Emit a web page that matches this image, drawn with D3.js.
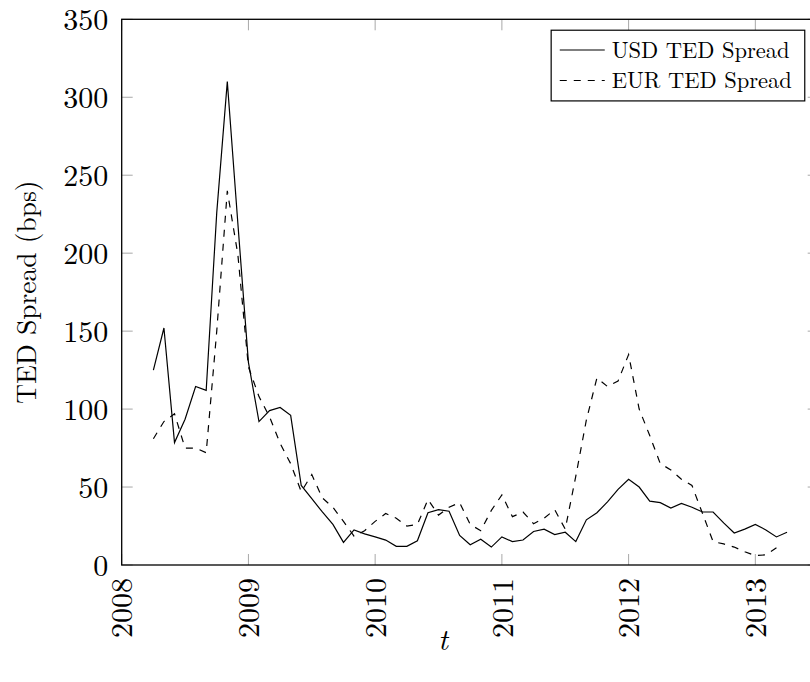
<!DOCTYPE html>
<html>
<head>
<meta charset="utf-8">
<script src="https://cdn.jsdelivr.net/npm/d3@7/dist/d3.min.js"></script>
<style>
  html, body { margin: 0; padding: 0; background: #fff; }
  svg { display: block; }
  text { font-family: "Latin Modern Roman", "CMU Serif", "Liberation Serif", "DejaVu Serif", serif; fill: #000; }
</style>
</head>
<body>
<svg id="chart" width="810" height="682"></svg>
<script>
// ---- data (monthly observations, decimal year) ----
const months = [
  2008.25, 2008.3333, 2008.4167, 2008.5, 2008.5833, 2008.6667, 2008.75, 2008.8333, 2008.9167,
  2009.0, 2009.0833, 2009.1667, 2009.25, 2009.3333, 2009.4167, 2009.5, 2009.5833, 2009.6667, 2009.75, 2009.8333, 2009.9167,
  2010.0, 2010.0833, 2010.1667, 2010.25, 2010.3333, 2010.4167, 2010.5, 2010.5833, 2010.6667, 2010.75, 2010.8333, 2010.9167,
  2011.0, 2011.0833, 2011.1667, 2011.25, 2011.3333, 2011.4167, 2011.5, 2011.5833, 2011.6667, 2011.75, 2011.8333, 2011.9167,
  2012.0, 2012.0833, 2012.1667, 2012.25, 2012.3333, 2012.4167, 2012.5, 2012.5833, 2012.6667, 2012.75, 2012.8333, 2012.9167,
  2013.0, 2013.0833, 2013.1667, 2013.25
];
const usdTed = [
  125, 152, 78.5, 93.5, 114.5, 112, 226, 310, 219,
  130, 92, 99, 101, 96, 51, 42.5, 34, 26, 14.5, 22.5, 20,
  18, 16, 12, 12, 15.5, 33.5, 35.5, 34.5, 19, 13, 16.5, 11.5,
  18, 15, 16, 21.5, 23, 19.5, 21, 15, 29, 33.5, 40.5, 48.5,
  55, 50, 41, 40, 36.5, 39.5, 37, 34, 34, 27, 20.5, 23,
  26, 22.5, 18, 21
];
const eurTed = [
  81, 92, 97, 75, 75, 72, 150, 240, 199,
  127, 108, 95, 78, 65, 47, 58, 43, 37, 28, 18.5, 22,
  28, 33, 30, 25, 26, 42, 32, 37, 40, 26, 22, 35,
  45, 31, 34, 26.5, 30, 35.5, 23, 57, 93, 120, 114.5, 118,
  135, 100, 83, 65, 61, 55, 51, 33, 15, 13.5, 11.5, 8.5,
  6, 6.5, 11, null
];
const seriesNames = ["USD TED Spread", "EUR TED Spread"];
const xTicks = [2008, 2009, 2010, 2011, 2012, 2013];
const yTicks = [0, 50, 100, 150, 200, 250, 300, 350];
const xTitle = "t";
const yTitle = "TED Spread (bps)";

// ---- layout ----
const svg = d3.select("#chart");
const L = 121.7, T = 19.3, W = 697, H = 545.7;
const x = d3.scaleLinear().domain([2008, 2013.5]).range([L, L + W]);
const y = d3.scaleLinear().domain([0, 350]).range([T + H, T]);

const tickLen = 11;
const tickColor = "#a8a8a8";
const fontTick = 30;

// inward ticks (all four sides)
const tg = svg.append("g");
xTicks.forEach(v => {
  tg.append("line").attr("x1", x(v)).attr("x2", x(v)).attr("y1", T + H).attr("y2", T + H - tickLen)
    .attr("stroke", tickColor).attr("stroke-width", 1);
  tg.append("line").attr("x1", x(v)).attr("x2", x(v)).attr("y1", T).attr("y2", T + tickLen)
    .attr("stroke", tickColor).attr("stroke-width", 1);
});
yTicks.forEach(v => {
  tg.append("line").attr("x1", L).attr("x2", L + tickLen).attr("y1", y(v)).attr("y2", y(v))
    .attr("stroke", tickColor).attr("stroke-width", 1);
  tg.append("line").attr("x1", L + W).attr("x2", L + W - tickLen).attr("y1", y(v)).attr("y2", y(v))
    .attr("stroke", tickColor).attr("stroke-width", 1);
});

// tick labels via d3 axes (tick lines hidden)
const yAxis = d3.axisLeft(y).tickValues(yTicks).tickSize(0).tickPadding(13.5).tickFormat(d3.format("d"));
const gy = svg.append("g").attr("transform", `translate(${L},0)`).call(yAxis);
gy.select(".domain").remove();
gy.selectAll("text").style("font-size", fontTick + "px").attr("dy", "0.34em");

const xAxis = d3.axisBottom(x).tickValues(xTicks).tickSize(0).tickFormat(d3.format("d"));
const gx = svg.append("g").attr("transform", `translate(0,${T + H})`).call(xAxis);
gx.select(".domain").remove();
gx.selectAll("text")
  .style("font-size", fontTick + "px")
  .attr("y", 0).attr("dy", "0.34em").attr("x", -13)
  .attr("transform", "rotate(-90)")
  .style("text-anchor", "end");
svg.selectAll(".tick text").attr("fill", "#000");
svg.selectAll("g").attr("font-family", null);

// data lines
svg.append("clipPath").attr("id", "clip").append("rect")
  .attr("x", L).attr("y", T).attr("width", W).attr("height", H);
const line = d3.line().defined(d => d[1] != null).x(d => x(d[0])).y(d => y(d[1]));
svg.append("path").datum(months.map((m, i) => [m, usdTed[i]]))
  .attr("d", line).attr("fill", "none").attr("stroke", "#000").attr("stroke-width", 1.2)
  .attr("clip-path", "url(#clip)");
svg.append("path").datum(months.map((m, i) => [m, eurTed[i]]))
  .attr("d", line).attr("fill", "none").attr("stroke", "#000").attr("stroke-width", 1.2)
  .attr("stroke-dasharray", "7,7").attr("clip-path", "url(#clip)");

// axis frame
svg.append("rect").attr("x", L).attr("y", T).attr("width", W).attr("height", H)
  .attr("fill", "none").attr("stroke", "#000").attr("stroke-width", 1.3);

// axis titles
svg.append("text").attr("x", 443).attr("y", 650)
  .attr("text-anchor", "middle").style("font-size", "30px").style("font-style", "italic")
  .text(xTitle);
svg.append("text").attr("transform", `translate(36,${T + H / 2}) rotate(-90)`)
  .attr("text-anchor", "middle").style("font-size", "27.5px")
  .text(yTitle);

// legend
const lgX = L + 0.98 * W, lgY = T + 0.02 * H;
const lgW = 253.6, lgH = 70.7;
const lg = svg.append("g").attr("transform", `translate(${lgX - lgW},${lgY})`);
lg.append("rect").attr("width", lgW).attr("height", lgH)
  .attr("fill", "#fff").attr("stroke", "#000").attr("stroke-width", 1.2);
const dashes = [null, "7,7"];
seriesNames.forEach((name, i) => {
  const cy = 19.8 + i * 30.5;
  lg.append("line").attr("x1", 8.6).attr("x2", 53.6).attr("y1", cy).attr("y2", cy)
    .attr("stroke", "#000").attr("stroke-width", 1.2)
    .attr("stroke-dasharray", dashes[i]);
  lg.append("text").attr("x", 60.5).attr("y", cy).attr("dy", "0.35em")
    .style("font-size", "22.5px").text(name);
});
</script>
</body>
</html>
